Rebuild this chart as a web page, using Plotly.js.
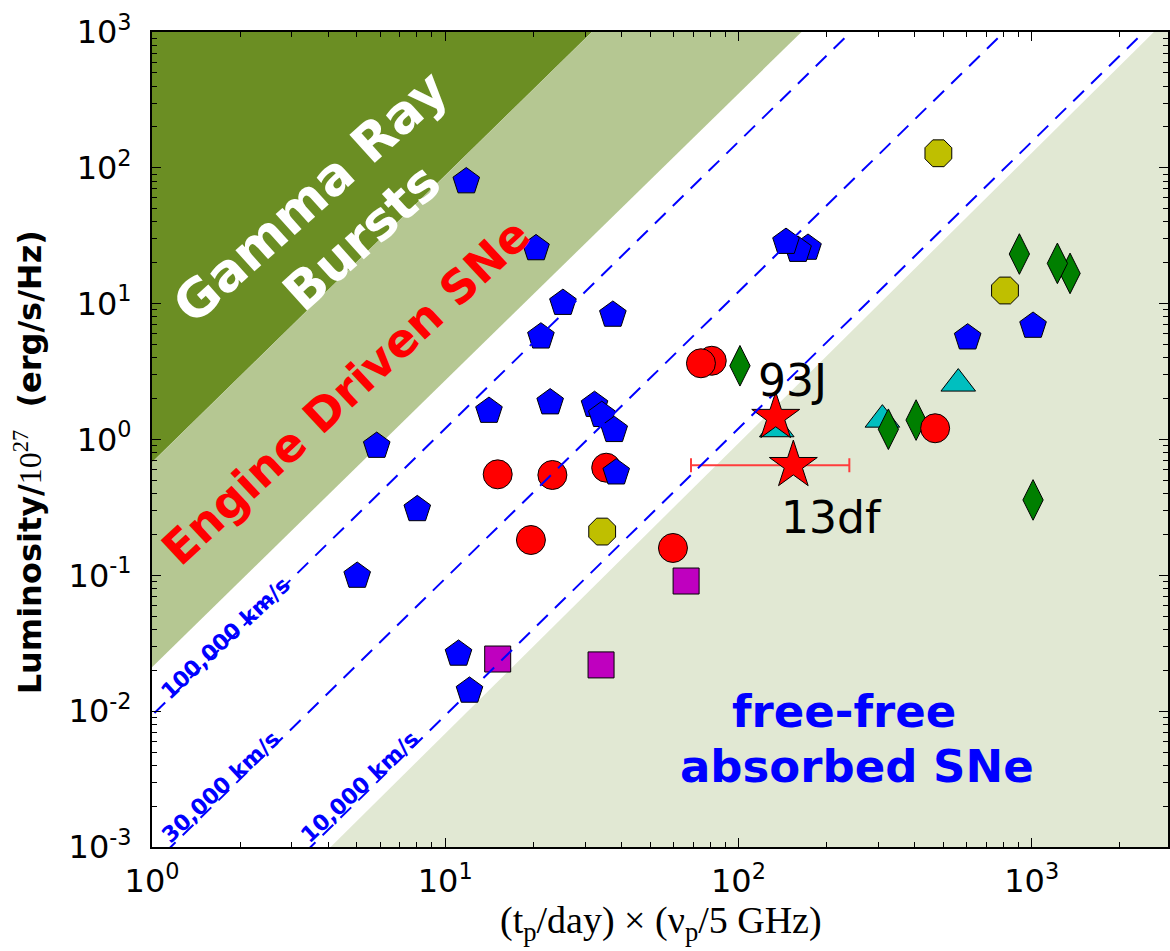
<!DOCTYPE html>
<html><head><meta charset="utf-8">
<script src="https://cdn.plot.ly/plotly-3.0.1.min.js"></script>
<style>html,body{margin:0;padding:0;background:#fff}</style>
</head><body><div id="chart" style="width:1170px;height:951px"></div>
<script>
// ---- data ----
const pentagonX = [172.7, 159.7, 145.3, 11.8, 20.4, 25.2, 37.3, 21.2, 22.8, 14.1, 32.3, 34.2, 37.7, 5.84, 38.3, 8.03, 5.01, 11.1, 12.1, 605, 1011];
const pentagonY = [25.7, 24.8, 28.4, 79.3, 25.5, 10.1, 8.26, 5.71, 1.87, 1.62, 1.79, 1.51, 1.17, 0.895, 0.570, 0.306, 0.0989, 0.0264, 0.0141, 5.62, 6.85];
const circleX = [81.1, 74.5, 15.1, 23.2, 35.4, 19.6, 59.8, 468.6];
const circleY = [3.80, 3.64, 0.554, 0.548, 0.620, 0.182, 0.159, 1.21];
const diamondX = [101.2, 908, 1352, 1224, 324.6, 403.5, 1011];
const diamondY = [3.49, 23.2, 16.7, 19.8, 1.19, 1.39, 0.359];
const triangleX = [309.7, 562, 135.1];
const triangleY = [1.40, 2.58, 1.19];
const octagonX = [480.7, 811, 34.3];
const octagonY = [128, 12.5, 0.210];
const squareX = [15.1, 34.0, 66.3];
const squareY = [0.0242, 0.0219, 0.0908];
const starNames = ['93J', '13df'];
const starX = [134, 153.9];
const starY = [1.46, 0.646];
const starXErr = [0, 85];

// region boundaries: log10(L) = slope * (log10(x) - offset)
const velocitySlope = 19 / 9;
const grbOffset = 0.079;
const engineOffset = 0.794;
const ffOffset = 2.013;
const ffSlope = 2.137;
const velocities = [100000, 30000, 10000];
const velocityLabels = ['100,000 km/s', '30,000 km/s', '10,000 km/s'];
const offset100k = 0.962;

const xTickVals = [1, 10, 100, 1000];
const xTickText = ['10<sup>0</sup>', '10<sup>1</sup>', '10<sup>2</sup>', '10<sup>3</sup>'];
const yTickVals = [1e-3, 1e-2, 1e-1, 1, 10, 100, 1000];
const yTickText = ['10<sup>-3</sup>', '10<sup>-2</sup>', '10<sup>-1</sup>', '10<sup>0</sup>', '10<sup>1</sup>', '10<sup>2</sup>', '10<sup>3</sup>'];

// ---- helpers ----
const LX0 = -0.2, LX1 = 3.7, LY0 = -3.3, LY1 = 3.3;
const xAt = (ly, a, s) => Math.pow(10, a + ly / s);
const yAt = (lx, a, s) => Math.pow(10, s * (lx - a));
const minorVals = (d0, d1) => { const v = []; for (let d = d0; d <= d1; d++) for (let m = 2; m <= 9; m++) v.push(m * Math.pow(10, d)); return v; };

const traces = [];
// GRB region
traces.push({x: [Math.pow(10, LX0), xAt(LY1, grbOffset, velocitySlope), Math.pow(10, LX0)],
  y: [yAt(LX0, grbOffset, velocitySlope), Math.pow(10, LY1), Math.pow(10, LY1)],
  mode: 'lines', fill: 'toself', fillcolor: '#6b8e23', line: {width: 0}, hoverinfo: 'skip'});
// engine driven region
traces.push({x: [Math.pow(10, LX0), xAt(LY1, engineOffset, velocitySlope), xAt(LY1, grbOffset, velocitySlope), Math.pow(10, LX0)],
  y: [yAt(LX0, engineOffset, velocitySlope), Math.pow(10, LY1), Math.pow(10, LY1), yAt(LX0, grbOffset, velocitySlope)],
  mode: 'lines', fill: 'toself', fillcolor: '#b5c792', line: {width: 0}, hoverinfo: 'skip'});
// free-free absorbed region
traces.push({x: [xAt(LY0, ffOffset, ffSlope), xAt(LY1, ffOffset, ffSlope), Math.pow(10, LX1), Math.pow(10, LX1)],
  y: [Math.pow(10, LY0), Math.pow(10, LY1), Math.pow(10, LY1), Math.pow(10, LY0)],
  mode: 'lines', fill: 'toself', fillcolor: '#e1e8d3', line: {width: 0}, hoverinfo: 'skip'});

const edge = {color: '#000', width: 1};
traces.push({x: squareX, y: squareY, mode: 'markers', marker: {symbol: 'square', size: 26, color: '#bf00bf', line: edge}});
traces.push({x: octagonX, y: octagonY, mode: 'markers', marker: {symbol: 'octagon', size: 29, color: '#bfbf00', line: edge}});
traces.push({x: triangleX, y: triangleY, mode: 'markers', marker: {symbol: 'triangle-up', size: 30, color: '#00bfbf', line: edge}});
traces.push({x: diamondX, y: diamondY, mode: 'markers', marker: {symbol: 'diamond-tall', size: 29, color: '#007f00', line: edge}});
traces.push({x: circleX, y: circleY, mode: 'markers', marker: {symbol: 'circle', size: 29, color: '#ff0000', line: edge}});
traces.push({x: pentagonX, y: pentagonY, mode: 'markers', marker: {symbol: 'pentagon', size: 28, color: '#0000ff', line: edge}});
traces.push({x: starX, y: starY, mode: 'markers', text: starNames,
  error_x: {type: 'data', array: starXErr, arrayminus: starXErr, color: '#ff3c3c', thickness: 2, width: 7},
  marker: {symbol: 'star', size: 36, color: '#ff0000', line: edge}});

// constant-velocity dashed lines
velocities.forEach(v => {
  const a = offset100k + Math.log10(100000 / v);
  traces.push({x: [xAt(LY0, a, velocitySlope), xAt(LY1, a, velocitySlope)], y: [Math.pow(10, LY0), Math.pow(10, LY1)],
    mode: 'lines', line: {color: '#0000ff', width: 2, dash: '15px,10px'}, hoverinfo: 'skip'});
});

const fam = 'DejaVu Sans';
const ann = (x, y, text, size, color, angle, extra) => Object.assign({x: Math.log10(x), y: Math.log10(y), xref: 'x', yref: 'y', text: text,
  showarrow: false, textangle: angle, xanchor: 'center', yanchor: 'middle', font: {family: fam, size: size, color: color}}, extra || {});

const annotations = [
  ann(Math.pow(10, 0.539), Math.pow(10, 1.785), '<b>Gamma Ray</b>', 52, '#ffffff', -42),
  ann(Math.pow(10, 0.715), Math.pow(10, 1.493), '<b>Bursts</b>', 52, '#ffffff', -42),
  ann(Math.pow(10, 0.660), Math.pow(10, 0.349), '<b>Engine Driven SNe</b>', 46, '#ff0000', -43),
  ann(Math.pow(10, 0.249), Math.pow(10, -1.462), '<b>' + velocityLabels[0] + '</b>', 22, '#0000ff', -43),
  ann(Math.pow(10, 0.232), Math.pow(10, -2.559), '<b>' + velocityLabels[1] + '</b>', 22, '#0000ff', -43),
  ann(Math.pow(10, 0.706), Math.pow(10, -2.559), '<b>' + velocityLabels[2] + '</b>', 22, '#0000ff', -43),
  ann(Math.pow(10, 2.360), Math.pow(10, -2.006), '<b>free-free</b>', 45, '#0000ff', 0),
  ann(Math.pow(10, 2.406), Math.pow(10, -2.404), '<b>absorbed SNe</b>', 45, '#0000ff', 0),
  ann(Math.pow(10, 2.183), Math.pow(10, 0.431), starNames[0], 44, '#000000', 0),
  ann(Math.pow(10, 2.316), Math.pow(10, -0.571), starNames[1], 44, '#000000', 0),
  {xref: 'paper', yref: 'paper', x: -0.122, y: 0.472, xanchor: 'center', yanchor: 'middle', textangle: -90, showarrow: false,
   text: '<b>Luminosity/</b><span style="font-family:\'Liberation Serif\';font-weight:normal">10<sup>27</sup></span><b>&nbsp;&nbsp;(erg/s/Hz)</b>',
   font: {family: fam, size: 32, color: '#000'}},
  {xref: 'paper', yref: 'paper', x: 0.501, y: -0.093, xanchor: 'center', yanchor: 'middle', showarrow: false,
   text: '(t<sub>p</sub>/day) × (ν<sub>p</sub>/5 GHz)', font: {family: 'Liberation Serif', size: 38, color: '#000'}}
];

const axisBase = {type: 'log', showgrid: false, zeroline: false, showline: true, linecolor: '#000', linewidth: 2,
  mirror: 'ticks', ticks: 'inside', ticklen: 9, tickwidth: 1.2, tickcolor: '#000', tickmode: 'array',
  tickfont: {family: fam, size: 32, color: '#000'}};

const layout = {
  width: 1170, height: 951, margin: {l: 152, r: 2, t: 32, b: 104},
  paper_bgcolor: '#fff', plot_bgcolor: '#fff', showlegend: false,
  xaxis: Object.assign({}, axisBase, {range: [0, 3.465], tickvals: xTickVals, ticktext: xTickText, ticklabelstandoff: 5,
    minor: {tickvals: minorVals(0, 3), ticks: 'inside', ticklen: 5, tickwidth: 1, tickcolor: '#000'}}),
  yaxis: Object.assign({}, axisBase, {range: [-3, 3], tickvals: yTickVals, ticktext: yTickText, ticklabelstandoff: 12,
    minor: {tickvals: minorVals(-3, 2), ticks: 'inside', ticklen: 5, tickwidth: 1, tickcolor: '#000'}}),
  annotations: annotations
};

Plotly.newPlot('chart', traces, layout, {displayModeBar: false, staticPlot: true});
</script></body></html>
